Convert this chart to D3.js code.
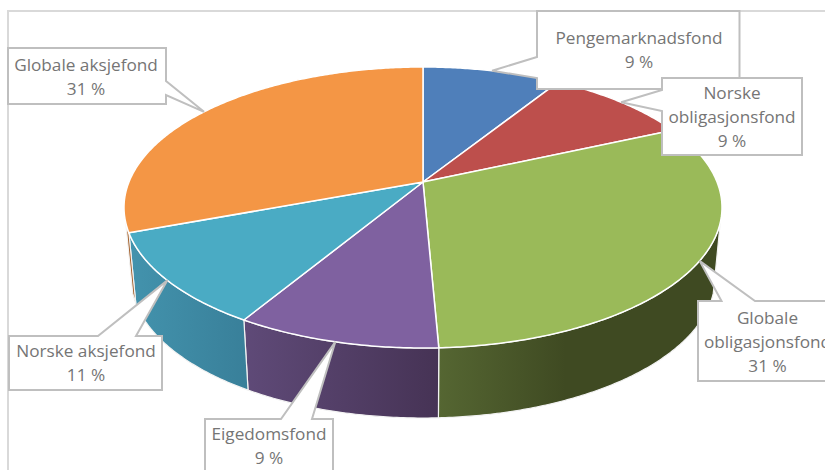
<!DOCTYPE html>
<html>
<head>
<meta charset="utf-8">
<script src="https://cdn.jsdelivr.net/npm/d3@7"></script>
<style>
  html, body { margin: 0; background: #fff; overflow: hidden; }
  text { font-family: "Open Sans", sans-serif; font-size: 17.2px; fill: #757575; text-anchor: middle; }
</style>
</head>
<body>
<svg width="825" height="470"></svg>
<script>
// Chart data, clockwise from the top
const categories = ['Pengemarknadsfond', 'Norske obligasjonsfond', 'Globale obligasjonsfond',
  'Eigedomsfond', 'Norske aksjefond', 'Globale aksjefond'];
const shares = [8.9, 9.4, 31.0, 9.3, 10.7, 30.7];

// Label line breaks
const labelLines = [['Pengemarknadsfond'], ['Norske', 'obligasjonsfond'], ['Globale', 'obligasjonsfond'],
  ['Eigedomsfond'], ['Norske aksjefond'], ['Globale aksjefond']];

// Colours: top face, then side wall gradient left to right
const topColors = ['#4f7fba', '#bd4f4c', '#9aba59', '#7f61a0', '#4aabc4', '#f49645'];
const wallLeft = ['#3a5f8c', '#8c3a38', '#556632', '#5f4a78', '#4393ad', '#c07030'];
const wallRight = ['#2f4d72', '#722f2d', '#3f4a22', '#463355', '#39809a', '#a05c26'];

// Callout boxes: x0,y0,x1,y1, side the pointer leaves from, pointer base a/b, text centre, first baseline
const callouts = [
  { box: [537, 11, 739.5, 89], side: 'left', a: 57, b: 78, cx: 639, y: 44 },
  { box: [662, 78, 802, 155], side: 'left', a: 90, b: 111, cx: 732, y: 99 },
  { box: [698, 301, 900, 381], side: 'top', a: 721.5, b: 755, cx: 767.5, y: 324 },
  { box: [205, 419, 333, 500], side: 'top', a: 281, b: 312, cx: 269, y: 440 },
  { box: [9, 336, 162, 390], side: 'top', a: 98, b: 136, cx: 86, y: 357 },
  { box: [8, 48, 166, 104], side: 'right', a: 81, b: 95, cx: 86, y: 71 }
];
const drawOrder = [0, 1, 2, 3, 4, 5];
const lineHeight = 24;

let svg = d3.select('svg');

// Top and bottom rims of the disc, normalised to -1..1
let xTop = d3.scaleLinear().domain([-1, 1]).range([124, 722]);
let yTop = d3.scaleLinear().domain([-1, 1]).range([67, 348]);
let xBottom = d3.scaleLinear().domain([-1, 1]).range([131, 715]);
let yBottom = d3.scaleLinear().domain([-1, 1]).range([138, 418]);

// Perspective shift: the pie centre sits above the middle of the rim ellipse
let apexV = (d3.scaleLinear().domain([67, 348]).range([-1, 1]))(182);

function project(angle) {
  let u = Math.sin(angle), v = -Math.cos(angle);
  let den = 1 + apexV * v;
  return [u * Math.sqrt(1 - apexV * apexV) / den, (v + apexV) / den];
}

let arcs = d3.pie().sort(null).value(d => d)(shares);
let line = d3.line();

function samples(d) {
  let n = Math.ceil((d.endAngle - d.startAngle) / 0.01);
  return d3.range(n + 1).map(i => project(d.startAngle + (d.endAngle - d.startAngle) * i / n));
}

// Side walls, only the part facing the viewer
let defs = svg.append('defs');
let walls = svg.append('g');
arcs.forEach((d, i) => {
  let pts = samples(d).filter(p => p[1] >= 0.1);
  if (!pts.length) return;
  let top = pts.map(p => [xTop(p[0]), yTop(p[1])]);
  let bottom = pts.map(p => [xBottom(p[0]), yBottom(p[1])]).reverse();
  let xs = top.map(p => p[0]);
  let grad = defs.append('linearGradient')
      .attr('id', 'wall' + i)
      .attr('gradientUnits', 'userSpaceOnUse')
      .attr('x1', d3.min(xs)).attr('x2', d3.min(xs) + (d3.max(xs) - d3.min(xs)) * (i === 2 ? 0.45 : 1))
      .attr('y1', 0).attr('y2', 0);
  grad.append('stop').attr('offset', 0).attr('stop-color', wallLeft[i]);
  grad.append('stop').attr('offset', 1).attr('stop-color', wallRight[i]);
  walls.append('path')
      .attr('d', line(top.concat(bottom)) + 'Z')
      .attr('fill', 'url(#wall' + i + ')')
      .attr('stroke', '#f2f2f2')
      .attr('stroke-width', 1.2);
});

// Top face
let apex = [xTop(0), yTop(apexV)];
svg.append('g').selectAll('path')
  .data(arcs)
  .enter().append('path')
    .attr('d', d => line([apex].concat(samples(d).map(p => [xTop(p[0]), yTop(p[1])]))) + 'Z')
    .attr('fill', (d, i) => topColors[i])
    .attr('stroke', '#fff')
    .attr('stroke-width', 1.5)
    .attr('stroke-linejoin', 'round');

// Chart frame, runs off the page to the right and below
svg.append('rect')
    .attr('x', 8).attr('y', 11)
    .attr('width', 1000).attr('height', 800)
    .attr('fill', 'none')
    .attr('stroke', '#d9d9d9')
    .attr('stroke-width', 2);

// Callouts, the pointer ends on the rim at the middle of each slice
function calloutPath(c, tip) {
  let [x0, y0, x1, y1] = c.box;
  let pts;
  if (c.side === 'left') {
    pts = [[x0, y0], [x1, y0], [x1, y1], [x0, y1], [x0, c.b], tip, [x0, c.a]];
  } else if (c.side === 'right') {
    pts = [[x0, y0], [x1, y0], [x1, c.a], tip, [x1, c.b], [x1, y1], [x0, y1]];
  } else {
    pts = [[x0, y0], [c.a, y0], tip, [c.b, y0], [x1, y0], [x1, y1], [x0, y1]];
  }
  return line(pts) + 'Z';
}

drawOrder.forEach(i => {
  let c = callouts[i];
  let mid = project((arcs[i].startAngle + arcs[i].endAngle) / 2);
  let tip = [xTop(mid[0]), yTop(mid[1])];
  let g = svg.append('g');
  g.append('path')
      .attr('d', calloutPath(c, tip))
      .attr('fill', '#fff')
      .attr('stroke', '#bfbfbf')
      .attr('stroke-width', 2);
  labelLines[i].concat([Math.round(shares[i]) + ' %']).forEach((t, k) => {
    g.append('text')
        .attr('x', c.cx)
        .attr('y', c.y + k * lineHeight)
        .text(t);
  });
});
</script>
</body>
</html>
